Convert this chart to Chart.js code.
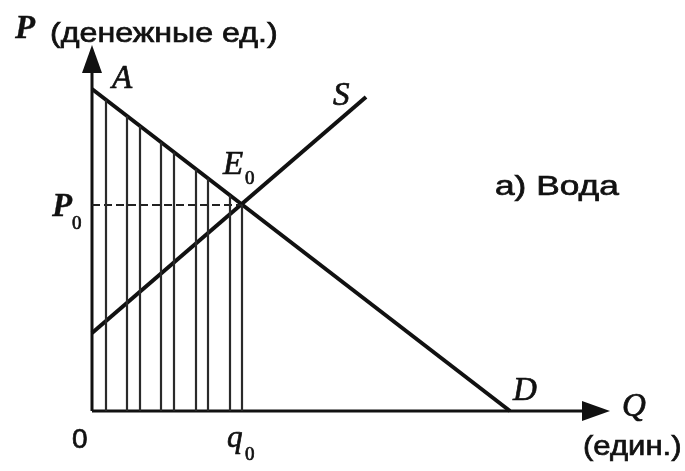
<!DOCTYPE html>
<html><head><meta charset="utf-8">
<script src="https://cdn.jsdelivr.net/npm/chart.js@4"></script>
<style>html,body{margin:0;padding:0;background:#fff}#wrap{width:685px;height:471px}canvas{display:block}</style>
</head><body>
<div id="wrap"><canvas id="c" width="685" height="471"></canvas></div>
<script>
// ---- data (arbitrary units) ----
const demandQ = [0, 418];
const demandP = [322, 0];
const supplyQ = [0, 274];
const supplyP = [78, 314];
const equilibriumQ = 150;   // q0
const equilibriumP = 206;   // P0
const hatchQ = [14, 35, 48, 69, 82, 104, 116, 138, 150];
const axisMaxQ = 518;
const axisMaxP = 366;

function demandAt(q) {
  return demandP[0] + (demandP[1] - demandP[0]) * (q - demandQ[0]) / (demandQ[1] - demandQ[0]);
}

const datasets = [];
hatchQ.forEach(q => {
  datasets.push({ data: [{x: q, y: 0}, {x: q, y: demandAt(q)}], borderColor: '#2a2a2a', borderWidth: 2.2 });
});
datasets.push({ data: [{x: 0, y: equilibriumP}, {x: equilibriumQ, y: equilibriumP}], borderColor: '#222', borderWidth: 2, borderDash: [8, 4] });
datasets.push({ data: supplyQ.map((q, i) => ({x: q, y: supplyP[i]})), borderColor: '#111', borderWidth: 4 });
datasets.push({ data: demandQ.map((q, i) => ({x: q, y: demandP[i]})), borderColor: '#111', borderWidth: 4 });
// axes
datasets.push({ data: [{x: 0, y: 0}, {x: axisMaxQ - 20, y: 0}], borderColor: '#111', borderWidth: 3 });
datasets.push({ data: [{x: 0, y: 0}, {x: 0, y: axisMaxP - 20}], borderColor: '#111', borderWidth: 3 });

function txt(ctx, s, x, y, font, sx, heavy) {
  ctx.save();
  ctx.font = font;
  ctx.fillStyle = '#111';
  ctx.strokeStyle = '#111';
  ctx.lineWidth = heavy === undefined ? 0.7 : heavy;
  ctx.textAlign = 'left';
  ctx.textBaseline = 'alphabetic';
  ctx.translate(x, y);
  ctx.scale(sx || 1, 1);
  ctx.fillText(s, 0, 0);
  if (ctx.lineWidth > 0.01) ctx.strokeText(s, 0, 0);
  ctx.restore();
}

const SERIF_I = 'italic 33px "Liberation Serif"';
const SERIF_P = 'italic bold 33px "Liberation Serif"';
const SUB = '19px "Liberation Serif"';
const SANS = '28px "Liberation Sans"';

const decor = {
  id: 'decor',
  afterDatasetsDraw(chart) {
    const ctx = chart.ctx;
    const xs = chart.scales.x, ys = chart.scales.y;
    const X = v => xs.getPixelForValue(v), Y = v => ys.getPixelForValue(v);
    ctx.save();
    ctx.fillStyle = '#111';
    // arrowheads
    const x0 = X(0), y0 = Y(0);
    const yTip = Y(axisMaxP), xTip = X(axisMaxQ);
    ctx.beginPath();
    ctx.moveTo(x0, yTip); ctx.lineTo(x0 - 10, yTip + 28); ctx.lineTo(x0 + 10, yTip + 28); ctx.closePath(); ctx.fill();
    ctx.beginPath();
    ctx.moveTo(xTip, y0); ctx.lineTo(xTip - 28, y0 - 10); ctx.lineTo(xTip - 28, y0 + 10); ctx.closePath(); ctx.fill();
    ctx.restore();

    // labels
    txt(ctx, 'P', 15, 38, SERIF_P, 1, 0.3);
    txt(ctx, '(денежные ед.)', 50, 42, SANS, 1.15);
    txt(ctx, 'A', X(demandQ[0]) + 20, Y(demandP[0]) - 1, SERIF_I);
    txt(ctx, 'S', X(supplyQ[1]) - 33, Y(supplyP[1]) + 8, SERIF_I);
    const ex = X(equilibriumQ), ey = Y(equilibriumP);
    txt(ctx, 'E', ex - 19, ey - 31, SERIF_I);
    txt(ctx, '0', ex + 3, ey - 21, SUB);
    txt(ctx, 'P', x0 - 40, ey + 11, SERIF_P, 1, 0.3);
    txt(ctx, '0', x0 - 20, ey + 24, SUB);
    txt(ctx, 'а) Вода', 495, 195, SANS, 1.26);
    txt(ctx, 'D', X(demandQ[1]) + 3, y0 - 11, SERIF_I);
    txt(ctx, 'Q', xTip + 12, y0 + 5, SERIF_I);
    txt(ctx, '(един.)', 583, 455, SANS, 1.11);
    txt(ctx, '0', x0 - 20, 448, SANS);
    txt(ctx, 'q', ex - 15, 447, 'italic 31px "Liberation Serif"');
    txt(ctx, '0', ex + 3, 460, SUB);
  }
};

new Chart(document.getElementById('c'), {
  type: 'scatter',
  data: { datasets: datasets.map(d => Object.assign({ showLine: true, pointRadius: 0, fill: false, clip: false, borderCapStyle: 'butt' }, d)) },
  options: {
    responsive: false,
    animation: false,
    devicePixelRatio: 1,
    layout: { padding: { left: 92, top: 45, right: 75, bottom: 60 } },
    scales: {
      x: { type: 'linear', min: 0, max: axisMaxQ, display: false },
      y: { type: 'linear', min: 0, max: axisMaxP, display: false }
    },
    plugins: { legend: { display: false }, tooltip: { enabled: false } },
    events: []
  },
  plugins: [decor]
});
</script>
</body></html>
